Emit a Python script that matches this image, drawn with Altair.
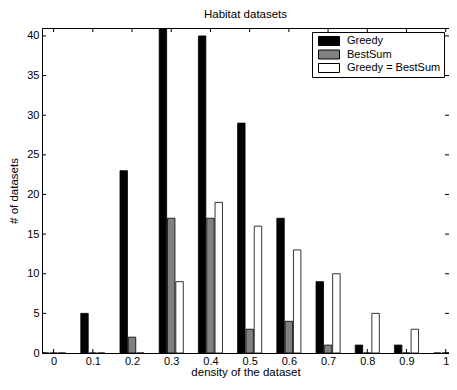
import altair as alt
import pandas as pd

density = [0.0, 0.1, 0.2, 0.3, 0.4, 0.5, 0.6, 0.7, 0.8, 0.9, 1.0]
greedy = [0, 5, 23, 41, 40, 29, 17, 9, 1, 1, 0]
bestsum = [0, 0, 2, 17, 17, 3, 4, 1, 0, 0, 0]
equal = [0, 0, 0, 9, 19, 16, 13, 10, 5, 3, 0]
series = ["Greedy", "BestSum", "Greedy = BestSum"]
colors = ["#000000", "#808080", "#ffffff"]
x_ticks = [0, 0.1, 0.2, 0.3, 0.4, 0.5, 0.6, 0.7, 0.8, 0.9, 1]
y_ticks = [0, 5, 10, 15, 20, 25, 30, 35, 40]

W, H = 407, 325
FONT = "Liberation Sans"

rows = []
for s, vals, k in zip(series, [greedy, bestsum, equal], [-1, 0, 1]):
    for d, v in zip(density, vals):
        rows.append({"density": d, "count": v, "series": s, "k": k})
df = pd.DataFrame(rows)

xscale = alt.Scale(domain=[-0.0296, 1.0084], nice=False, zero=False)
yscale = alt.Scale(domain=[0, 41], nice=False)

bars = alt.Chart(df).transform_calculate(
    xs="datum.density + datum.k * 0.0212 - 0.0095",
    xe="datum.density + datum.k * 0.0212 + 0.0095",
).mark_bar(stroke="black", strokeWidth=0.8, clip=True).encode(
    x=alt.X("xs:Q", scale=xscale, title="density of the dataset",
            axis=alt.Axis(values=x_ticks, format="~g", tickSize=0, domain=False,
                          grid=False, labelPadding=2, titlePadding=0)),
    x2="xe:Q",
    y=alt.Y("count:Q", scale=yscale, title="# of datasets",
            axis=alt.Axis(values=y_ticks, tickSize=0, domain=False, grid=False,
                          labelPadding=3, titlePadding=7)),
    y2=alt.datum(0),
    color=alt.Color("series:N", scale=alt.Scale(domain=series, range=colors),
                    sort=series,
                    legend=alt.Legend(
                        title=None, orient="none", legendX=270, legendY=4,
                        symbolType="M-1,-0.43H1V0.43H-1Z", symbolSize=441,
                        symbolStrokeColor="black", symbolStrokeWidth=1,
                        symbolOpacity=1,
                        strokeColor="black", fillColor="white", padding=3,
                        symbolOffset=3, labelOffset=7, clipHeight=12, rowPadding=1.5,
                        labelFont=FONT, labelFontSize=11, labelColor="black",
                        labelExpr="datum.label == 'Greedy = BestSum' ? '\u00a0Greedy = BestSum' : datum.label",
                    )),
)

xt = pd.DataFrame({"v": x_ticks})
yt = pd.DataFrame({"v": y_ticks})
tick_style = dict(color="black", strokeWidth=1)

top_ticks = alt.Chart(xt).mark_rule(**tick_style).encode(
    x=alt.X("v:Q", scale=xscale), y=alt.value(0), y2=alt.value(4))
bot_ticks = alt.Chart(xt).mark_rule(**tick_style).encode(
    x=alt.X("v:Q", scale=xscale), y=alt.value(H - 4), y2=alt.value(H))
left_ticks = alt.Chart(yt).mark_rule(**tick_style).encode(
    y=alt.Y("v:Q", scale=yscale), x=alt.value(0), x2=alt.value(4))
right_ticks = alt.Chart(yt).mark_rule(**tick_style).encode(
    y=alt.Y("v:Q", scale=yscale), x=alt.value(W - 4), x2=alt.value(W))

chart = alt.layer(top_ticks, bot_ticks, left_ticks, right_ticks, bars).properties(
    width=W, height=H,
    background="white",
    title=alt.TitleParams("Habitat datasets", font=FONT, fontSize=11.5,
                          fontWeight="normal", color="black", offset=7),
    autosize=alt.AutoSizeParams(type="none"),
    padding={"left": 34, "top": 20, "right": 0, "bottom": 29},
).configure_view(stroke="black", strokeWidth=1).configure_axis(
    labelFont=FONT, labelFontSize=11, labelColor="black",
    titleFont=FONT, titleFontSize=11.5, titleFontWeight="normal", titleColor="black",
)

chart.save("out.html", embed_options={"renderer": "svg", "actions": False})
